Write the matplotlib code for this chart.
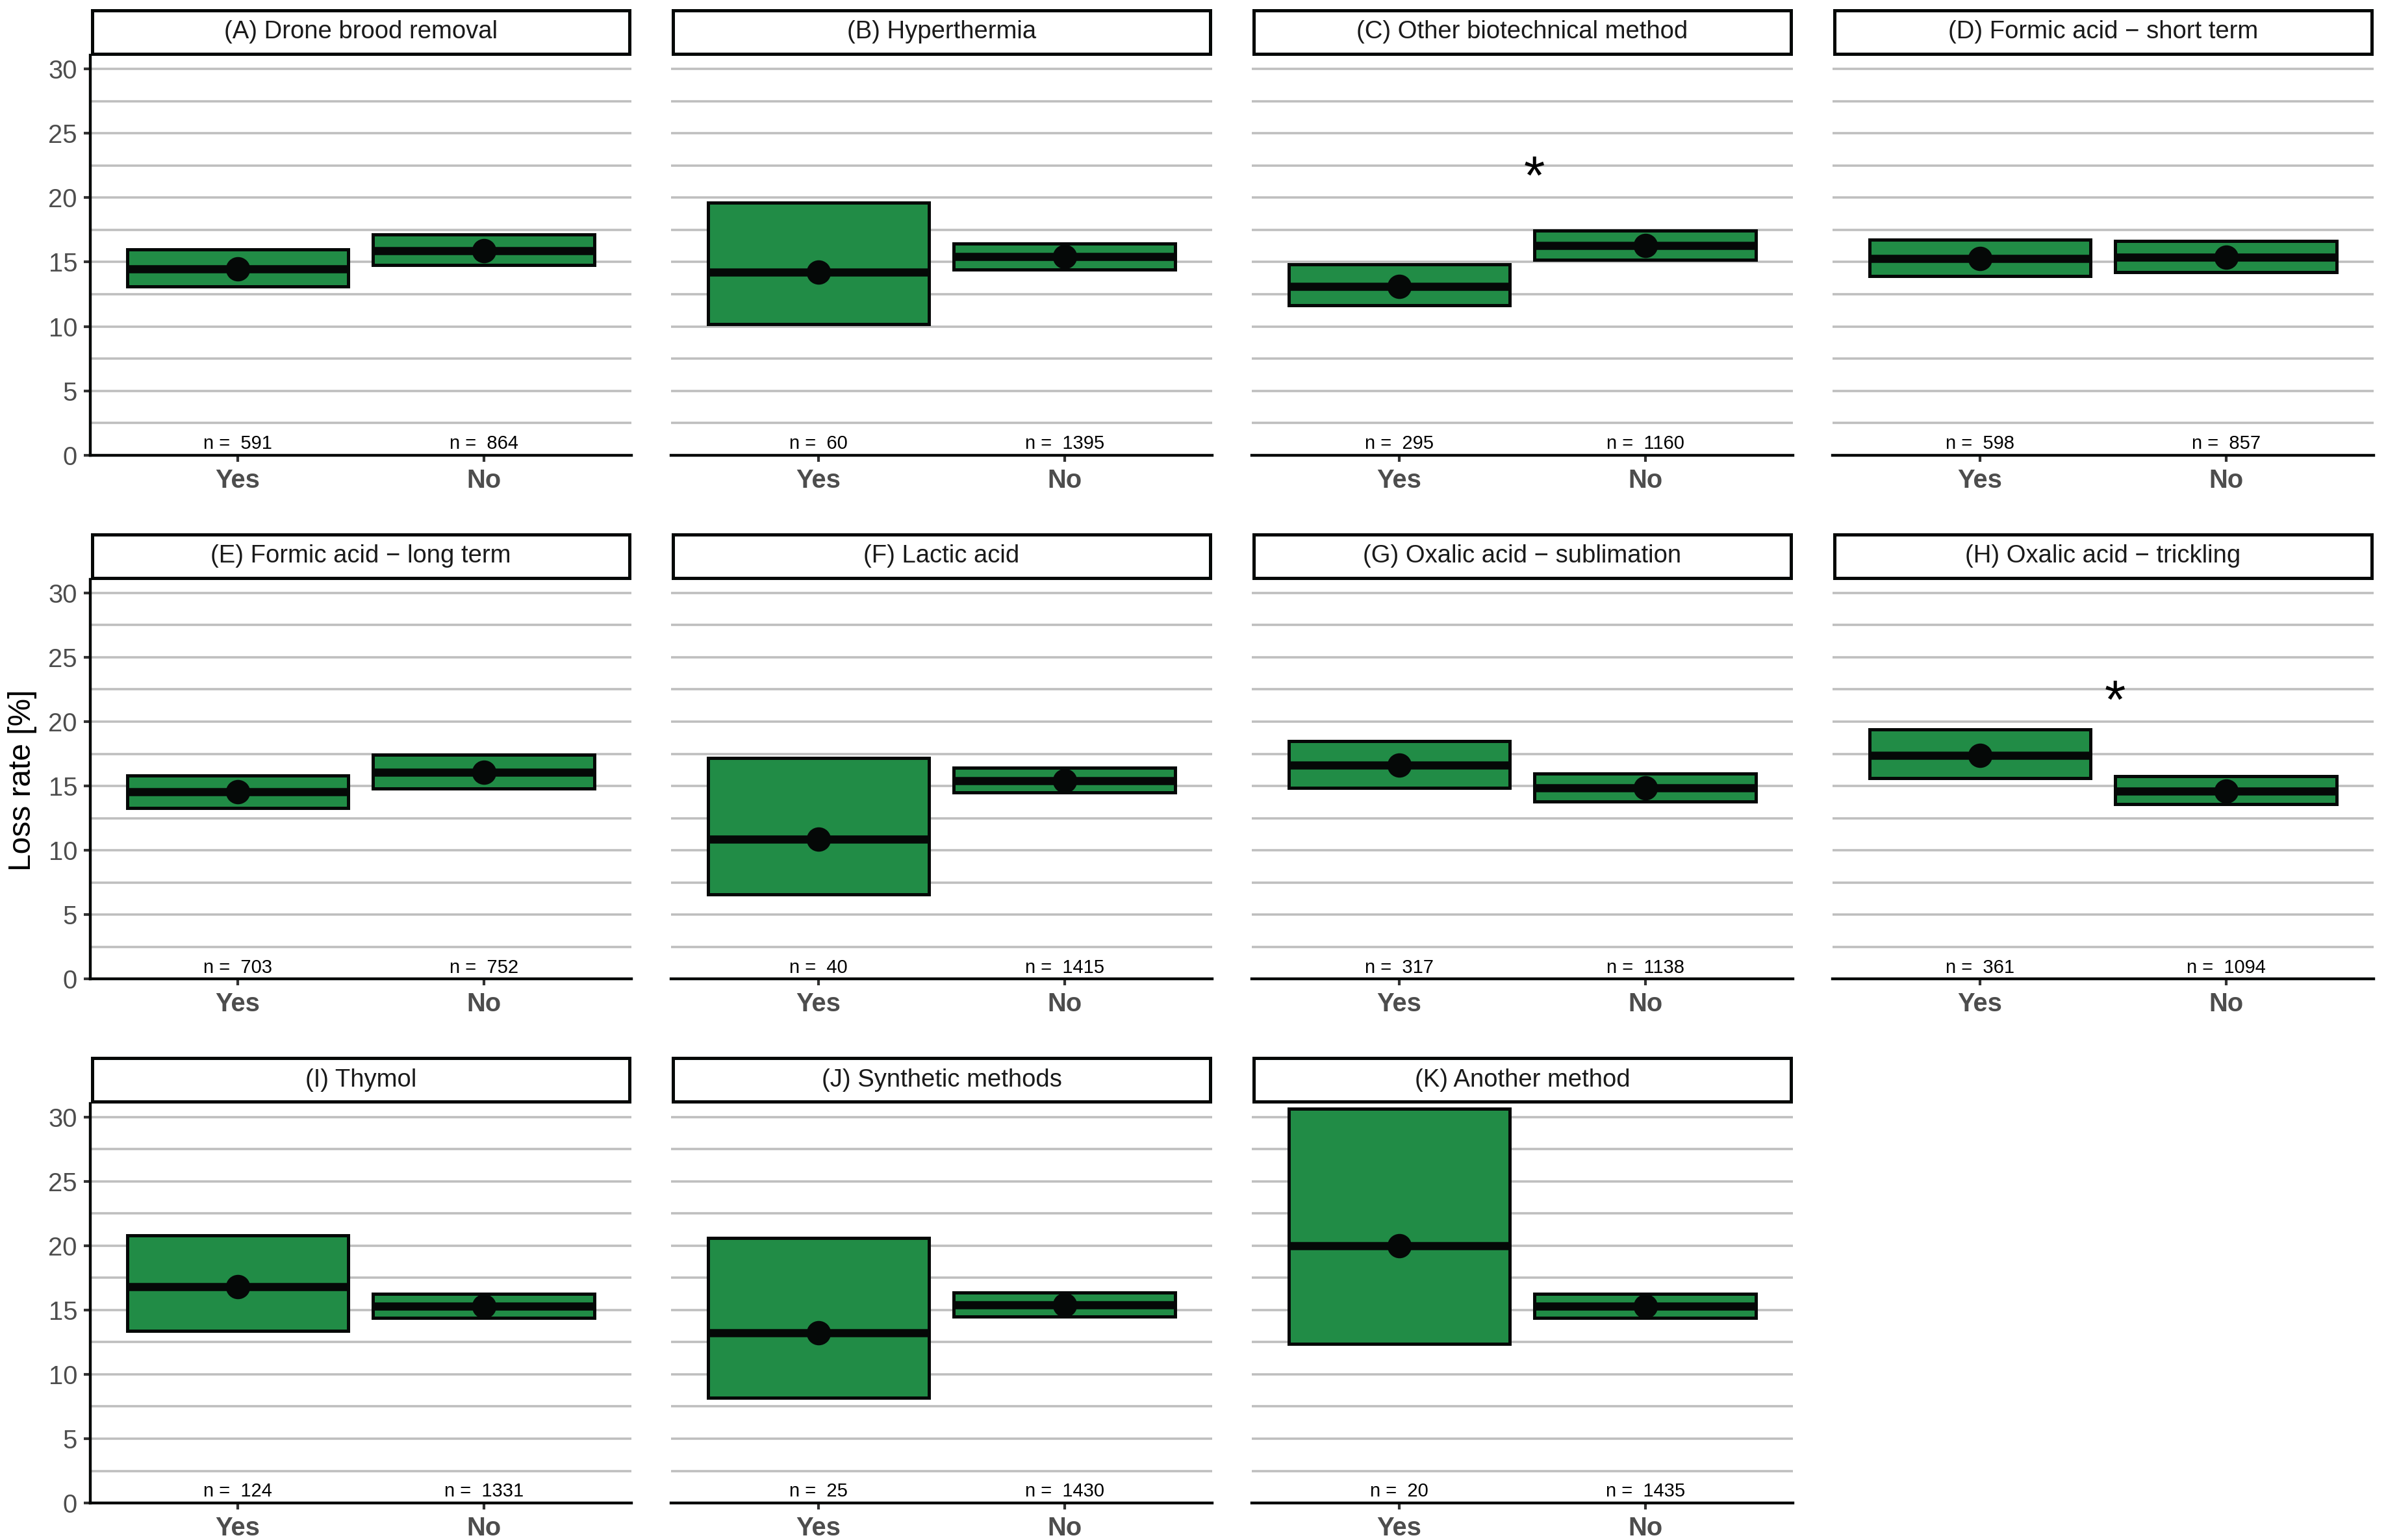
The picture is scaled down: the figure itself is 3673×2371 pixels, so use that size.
import matplotlib
matplotlib.use("Agg")
import matplotlib.pyplot as plt
from matplotlib.ticker import MultipleLocator

plt.rcParams['font.family'] = ['Liberation Sans', 'DejaVu Sans']

# ---------------- data ----------------
panels = ["(A) Drone brood removal", "(B) Hyperthermia", "(C) Other biotechnical method",
          "(D) Formic acid \u2212 short term", "(E) Formic acid \u2212 long term", "(F) Lactic acid",
          "(G) Oxalic acid \u2212 sublimation", "(H) Oxalic acid \u2212 trickling", "(I) Thymol",
          "(J) Synthetic methods", "(K) Another method"]
groups = ["Yes", "No"]

mean_yes  = [14.47, 14.19, 13.09, 15.27, 14.54, 10.85, 16.60, 17.37, 16.80, 13.20, 20.00]
lower_yes = [13.12, 10.17, 11.64, 13.92, 13.27,  6.59, 14.84, 15.61, 13.38,  8.20, 12.36]
upper_yes = [16.00, 19.60, 14.80, 16.73, 15.80, 17.17, 18.50, 19.42, 20.81, 20.61, 30.65]

mean_no   = [15.88, 15.43, 16.30, 15.37, 16.05, 15.39, 14.85, 14.60, 15.31, 15.41, 15.31]
lower_no  = [14.75, 14.43, 15.15, 14.22, 14.80, 14.51, 13.80, 13.61, 14.37, 14.47, 14.37]
upper_no  = [17.13, 16.44, 17.43, 16.63, 17.45, 16.42, 15.94, 15.74, 16.25, 16.35, 16.23]

n_yes = [591, 60, 295, 598, 703, 40, 317, 361, 124, 25, 20]
n_no  = [864, 1395, 1160, 857, 752, 1415, 1138, 1094, 1331, 1430, 1435]

significant = [False, False, True, False, False, False, False, True, False, False, False]

# ---------------- style / layout ----------------
W, H = 3673, 2371
DPI = 300
FILL = "#218C46"
DARK = "#050807"
GRID = "#BEBEBE"
TXT = "#4D4D4D"

fig = plt.figure(figsize=(W / DPI, H / DPI), dpi=DPI)

px_left0, px_pitch_x, px_w = 139.0, 894.0, 832.7
px_top0, px_bot0, px_pitch_y = 85.3, 700.7, 806.7

ymax = 31.05
xpos = [1, 2]

for i, title in enumerate(panels):
    r, c = divmod(i, 4)
    left = px_left0 + px_pitch_x * c
    top = px_top0 + px_pitch_y * r
    bot = px_bot0 + px_pitch_y * r
    ax = fig.add_axes([left / W, 1 - bot / H, px_w / W, (bot - top) / H])

    ax.set_xlim(0.4, 2.6)
    ax.set_ylim(0, ymax)
    ax.set_axisbelow(True)
    ax.yaxis.set_major_locator(MultipleLocator(5))
    ax.yaxis.set_minor_locator(MultipleLocator(2.5))
    ax.grid(True, which='both', axis='y', color=GRID, lw=0.85)

    means = [mean_yes[i], mean_no[i]]
    lows = [lower_yes[i], lower_no[i]]
    highs = [upper_yes[i], upper_no[i]]
    ns = [n_yes[i], n_no[i]]

    heights = [h - l for h, l in zip(highs, lows)]
    ax.bar(xpos, heights, bottom=lows, width=0.9, color=FILL,
           edgecolor=DARK, linewidth=1.2, zorder=3)
    ax.hlines(means, [x - 0.45 for x in xpos], [x + 0.45 for x in xpos],
              color=DARK, lw=3.0, zorder=4)
    ax.plot(xpos, means, 'o', color=DARK, ms=8, zorder=5)

    for x, n in zip(xpos, ns):
        ax.text(x, 0.9, f"n =  {n}", ha='center', va='center', fontsize=7,
                color='black', zorder=6)

    if significant[i]:
        ax.text(1.55, 21.4, "*", ha='center', va='center', fontsize=20,
                color='black', zorder=6)

    # spines
    for s in ['top', 'right']:
        ax.spines[s].set_visible(False)
    ax.spines['bottom'].set_linewidth(1.05)
    ax.spines['bottom'].set_color(DARK)
    ax.spines['bottom'].set_zorder(7)
    ax.set_xticks(xpos)
    ax.set_xticklabels(groups, fontsize=9.6, fontweight='bold', color=TXT)
    ax.tick_params(axis='x', length=2.4, width=1.0, color='#333333', pad=2.4)

    if c == 0:
        ax.spines['left'].set_linewidth(1.05)
        ax.spines['left'].set_color(DARK)
        ax.spines['left'].set_zorder(7)
        ax.tick_params(axis='y', which='major', length=2.4, width=1.0,
                       color='#333333', labelsize=9.6, labelcolor=TXT, pad=2.4)
        ax.tick_params(axis='y', which='minor', length=0)
    else:
        ax.spines['left'].set_visible(False)
        ax.tick_params(axis='y', which='both', left=False, labelleft=False)

    # strip
    s_top = 15.8 + px_pitch_y * r
    s_bot = 82.8 + px_pitch_y * r
    sax = fig.add_axes([(left + 2.8) / W, 1 - s_bot / H, (px_w - 5.4) / W, (s_bot - s_top) / H])
    sax.set_xticks([])
    sax.set_yticks([])
    for sp in sax.spines.values():
        sp.set_linewidth(1.2)
        sp.set_color(DARK)
    sax.text(0.5, 0.5, title, ha='center', va='center', fontsize=9.2,
             color='#1A1A1A', transform=sax.transAxes)

fig.text(0.0095, 0.4935, "Loss rate [%]", rotation=90, ha='center', va='center',
         fontsize=11.5, color='black')

fig.savefig("out.png", dpi=DPI, facecolor='white')
